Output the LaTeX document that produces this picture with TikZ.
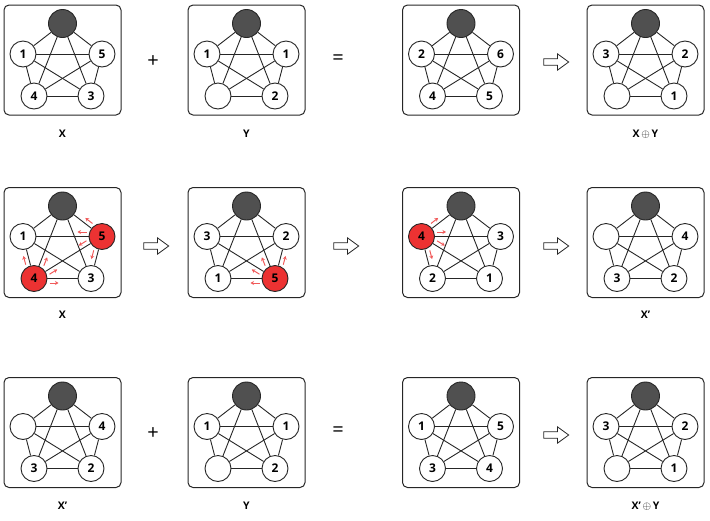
\documentclass[tikz,border=0pt]{standalone}
\usepackage{fontspec}
\setmainfont{Open Sans}
\usetikzlibrary{arrows.meta,positioning,shapes.arrows,calc}

\definecolor{hubgray}{RGB}{80,80,80}
\definecolor{hotred}{RGB}{236,50,50}
\definecolor{sparkred}{RGB}{240,90,90}

% per-slot extra styles, overridden in the optional argument of \kgraph
\tikzset{v l/.style={}, v r/.style={}, v bl/.style={}, v br/.style={}}

% #1 extra styles, #2 name, #3 centre, #4-#7 labels of left, right, bottom-left, bottom-right
\newcommand{\kgraph}[7][]{%
  \begin{scope}[shift={(#3)}, #1]
    \node[panel] (#2) at (0,0) {};
    \node[hub] (#2t) at (0,-36.5) {};
    \node[vtx, v l] (#2l) at (-39.5,-6) {#4};
    \node[vtx, v r] (#2r) at (39.5,-6) {#5};
    \node[vtx, v bl] (#2bl) at (-28.5,36) {#6};
    \node[vtx, v br] (#2br) at (28.5,36) {#7};
    \foreach \a/\b in {t/l,t/r,t/bl,t/br,l/r,l/bl,l/br,r/bl,r/br,bl/br}
      \draw[edge] (#2\a) -- (#2\b);
  \end{scope}}

% small red arrow beside the edge from #1 towards #2, on side #3 (90 = left, -90 = right)
\newcommand{\push}[3]{%
  \draw[spark] ($($(#1)!15.5pt!(#2)$)!4.5pt!#3:(#2)$) -- ($($(#1)!24.5pt!(#2)$)!4.5pt!#3:(#2)$);}

\begin{document}
\begin{tikzpicture}[x=1pt, y=-1pt,
    panel/.style={draw=black!85, line width=1pt, rounded corners=5pt, minimum width=117pt, minimum height=110pt},
    hub/.style={circle, draw=black!85, line width=0.9pt, fill=hubgray, minimum size=28pt, inner sep=0pt},
    vtx/.style={circle, draw=black!85, line width=0.9pt, fill=white, minimum size=26pt, inner sep=0pt,
        font=\bfseries\fontsize{12}{12}\selectfont},
    hot/.style={fill=hotred},
    edge/.style={line width=0.9pt, black!85},
    spark/.style={-{Stealth[length=3.5pt,width=4pt]}, sparkred, line width=1pt},
    tag/.style={font=\bfseries\fontsize{10.5}{12}\selectfont},
    op/.style={font=\fontsize{20}{20}\selectfont, inner sep=0pt},
    nxt/.style={single arrow, draw=black!85, fill=white, line width=0.8pt, minimum height=25pt,
        inner sep=2.8pt, single arrow head extend=5pt, single arrow tip angle=72, single arrow head indent=0pt}
]
    \useasboundingbox (0,0) rectangle (710,520);

    % row 1
    \kgraph{g11}{62.5,60}{1}{5}{4}{3}
    \kgraph{g12}{246.5,60}{1}{1}{}{2}
    \kgraph{g13}{461,60}{2}{6}{4}{5}
    \kgraph{g14}{645.5,60}{3}{2}{}{1}
    \node[op] (plus1) at (153,62) {+};
    \node[op] (eq1) at (338,60) {=};
    \node[nxt] (n13) at (554,62) {};
    \node[tag] (lab11) at (62.5,134) {X};
    \node[tag] (lab12) at (246.5,134) {Y};
    \node[tag] (lab14) at (645.5,134) {X\,$\oplus$\,Y};

    % row 2
    \kgraph[v r/.style=hot, v bl/.style=hot]{g21}{62.5,242.5}{1}{5}{4}{3}
    \kgraph[v br/.style=hot]{g22}{246.5,242.5}{3}{2}{1}{5}
    \kgraph[v l/.style=hot]{g23}{461,242.5}{4}{3}{2}{1}
    \kgraph{g24}{645.5,242.5}{}{4}{3}{2}
    \node[nxt] (n21) at (154,246) {};
    \node[nxt] (n22) at (344,246) {};
    \node[nxt] (n23) at (554,246) {};
    \node[tag] (lab21) at (62.5,315) {X};
    \node[tag] (lab24) at (645.5,315) {X’};

    \foreach \a/\b/\s in {r/t/-90, r/l/-90, r/bl/-90, r/br/-90, bl/l/90, bl/t/-90, bl/r/-90, bl/br/-90}
      \push{g21\a}{g21\b}{\s};
    \foreach \b/\s in {bl/90, l/90, t/90, r/-90}
      \push{g22br}{g22\b}{\s};
    \foreach \b in {t, r, br, bl}
      \push{g23l}{g23\b}{90};

    % row 3
    \kgraph{g31}{62.5,432.5}{}{4}{3}{2}
    \kgraph{g32}{246.5,432.5}{1}{1}{}{2}
    \kgraph{g33}{461,432.5}{1}{5}{3}{4}
    \kgraph{g34}{645.5,432.5}{3}{2}{}{1}
    \node[op] (plus3) at (153,434) {+};
    \node[op] (eq3) at (338,432) {=};
    \node[nxt] (n33) at (554,435) {};
    \node[tag] (lab31) at (62.5,506) {X’};
    \node[tag] (lab32) at (246.5,506) {Y};
    \node[tag] (lab34) at (645.5,506) {X’\,$\oplus$\,Y};
\end{tikzpicture}
\end{document}
